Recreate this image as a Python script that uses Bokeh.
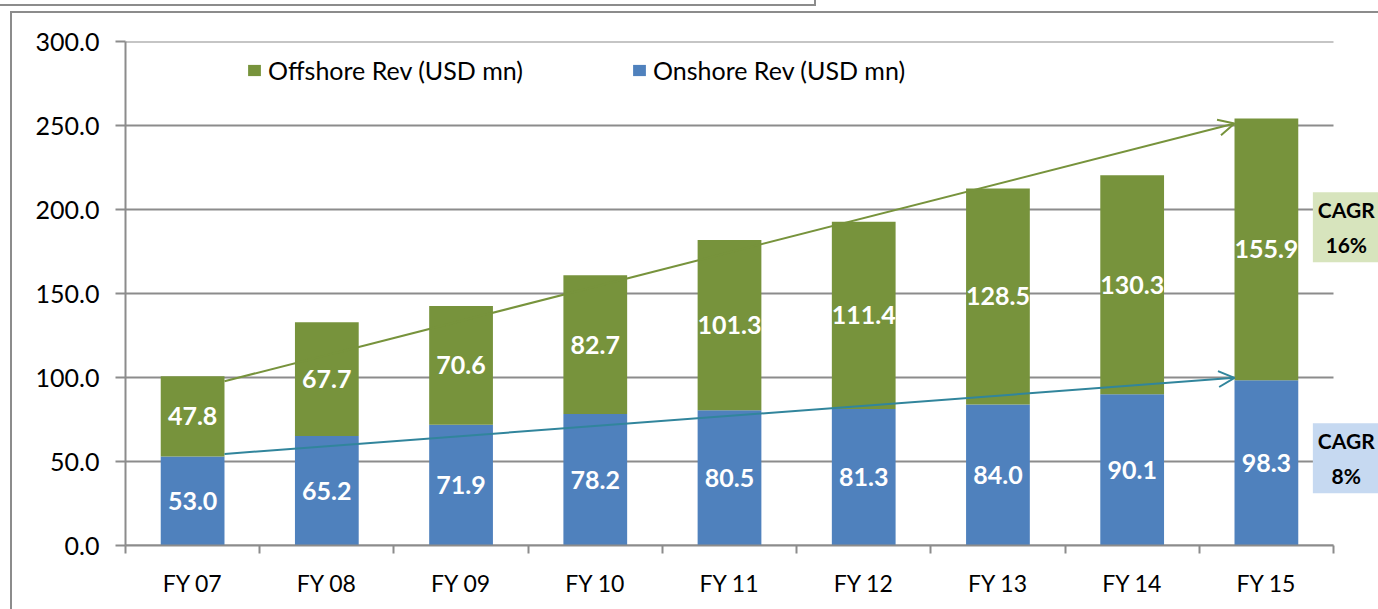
from bokeh.plotting import figure
from bokeh.models import (ColumnDataSource, FixedTicker, NumeralTickFormatter, Legend, LegendItem,
                          Arrow, OpenHead, Label, Range1d, InlineStyleSheet)
from bokeh.core.properties import value
from bokeh.embed import file_html
from bokeh.resources import INLINE

categories = ["FY 07", "FY 08", "FY 09", "FY 10", "FY 11", "FY 12", "FY 13", "FY 14", "FY 15"]
onshore = [53.0, 65.2, 71.9, 78.2, 80.5, 81.3, 84.0, 90.1, 98.3]
offshore = [47.8, 67.7, 70.6, 82.7, 101.3, 111.4, 128.5, 130.3, 155.9]
y_ticks = [0, 50, 100, 150, 200, 250, 300]
cagr_offshore = "16%"
cagr_onshore = "8%"

GREEN = "#77933C"
BLUE = "#4F81BD"
TEAL = "#31859C"
GRID = "#8c8c8c"
FONT = "Lato"

n = len(categories)
xs = [i + 0.5 for i in range(n)]
totals = [a + b for a, b in zip(onshore, offshore)]
BW = 0.475

src = ColumnDataSource(dict(
    x=xs, on=onshore, off=offshore, tot=totals,
    on_mid=[v / 2 for v in onshore],
    off_mid=[a + b / 2 for a, b in zip(onshore, offshore)],
    on_lbl=[f"{v:.1f}" for v in onshore],
    off_lbl=[f"{v:.1f}" for v in offshore],
))

# plot frame spans x=125..1378 px; category area ends at 1333 px
x_end = n * (1378 - 125) / (1333 - 125)

p = figure(width=1378, height=609, output_backend="svg", toolbar_location=None,
           x_range=Range1d(0, x_end), y_range=Range1d(0, 300),
           min_border_left=125, min_border_right=0, min_border_top=41, min_border_bottom=64)
p.outline_line_color = None
p.background_fill_color = "white"
p.border_fill_color = "white"
p.stylesheets = [InlineStyleSheet(css="""
:host { position: relative; }
:host::after { content: ""; position: absolute; left: 10px; top: 11px; right: 0; bottom: 0;
  border-top: 2px solid #8c8c8c; border-left: 2px solid #8c8c8c; pointer-events: none; z-index: 10; }
:host::before { content: ""; position: absolute; left: 0; top: 0; width: 814px; height: 4px;
  border-bottom: 2px solid #8c8c8c; border-right: 2px solid #8c8c8c; pointer-events: none; z-index: 10; }
""")]

# horizontal gridlines (stop at the last category)
p.xgrid.visible = False
p.ygrid.visible = False
p.segment(x0=[0] * len(y_ticks), x1=[n] * len(y_ticks), y0=y_ticks, y1=y_ticks,
          line_color=GRID, line_width=2)

r_on = p.vbar(x="x", bottom=0, top="on", width=BW, source=src, fill_color=BLUE, line_color=None)
r_off = p.vbar(x="x", bottom="on", top="tot", width=BW, source=src, fill_color=GREEN, line_color=None)

p.text(x="x", y="on_mid", text="on_lbl", source=src, text_align="center", text_baseline="middle",
       text_color="white", text_font=value(FONT), text_font_style="bold", text_font_size="25px")
p.text(x="x", y="off_mid", text="off_lbl", source=src, text_align="center", text_baseline="middle",
       text_color="white", text_font=value(FONT), text_font_style="bold", text_font_size="25px")

# axes
p.yaxis.ticker = FixedTicker(ticks=y_ticks)
p.yaxis.formatter = NumeralTickFormatter(format="0.0")
p.yaxis.axis_line_color = GRID
p.yaxis.axis_line_width = 2
p.yaxis.major_tick_line_color = GRID
p.yaxis.major_tick_line_width = 2
p.yaxis.major_tick_in = 0
p.yaxis.major_tick_out = 10
p.yaxis.minor_tick_line_color = None
p.yaxis.major_label_standoff = 16
p.yaxis.major_label_text_font = FONT
p.yaxis.major_label_text_font_size = "25px"
p.yaxis.major_label_text_color = "black"

p.xaxis.bounds = (0, n)
p.xaxis.ticker = FixedTicker(ticks=xs, minor_ticks=list(range(n + 1)))
p.xaxis.major_label_overrides = {x: c for x, c in zip(xs, categories)}
p.xaxis.axis_line_color = GRID
p.xaxis.axis_line_width = 2
p.xaxis.major_tick_line_color = None
p.xaxis.major_tick_in = 0
p.xaxis.major_tick_out = 0
p.xaxis.minor_tick_line_color = GRID
p.xaxis.minor_tick_line_width = 2
p.xaxis.minor_tick_in = 0
p.xaxis.minor_tick_out = 8
p.xaxis.major_label_standoff = 15
p.xaxis.major_label_text_font = FONT
p.xaxis.major_label_text_font_size = "23px"
p.xaxis.major_label_text_color = "black"

# trend arrows
p.add_layout(Arrow(x_start=xs[0] + BW / 2, y_start=totals[0] - 3, x_end=xs[-1] - BW / 2, y_end=totals[-1] - 3,
                   line_color=GREEN, line_width=2,
                   end=OpenHead(size=16, line_color=GREEN, line_width=2)))
p.add_layout(Arrow(x_start=xs[0] + BW / 2, y_start=onshore[0] + 1.5, x_end=xs[-1] - BW / 2, y_end=onshore[-1] + 1.5,
                   line_color=TEAL, line_width=2,
                   end=OpenHead(size=16, line_color=TEAL, line_width=2)))

# CAGR boxes
p.add_layout(Label(x=n + 0.095, y=189.5, text="CAGR\n" + cagr_offshore, text_align="center", text_baseline="middle",
                   text_font=FONT, text_font_style="bold", text_font_size="21px", text_line_height=1.4,
                   text_color="black", background_fill_color="#D7E4BD", padding=5))
p.add_layout(Label(x=n + 0.095, y=52, text="CAGR\n" + cagr_onshore, text_align="center", text_baseline="middle",
                   text_font=FONT, text_font_style="bold", text_font_size="21px", text_line_height=1.4,
                   text_color="black", background_fill_color="#C6D9F1", padding=5))

# legend
legend = Legend(items=[LegendItem(label="Offshore Rev (USD mn)", renderers=[r_off]),
                       LegendItem(label="Onshore Rev (USD mn)", renderers=[r_on])],
                orientation="horizontal", location=(121, 460), padding=0, margin=0, spacing=103,
                glyph_width=16, glyph_height=14, label_standoff=6, label_width=260,
                label_text_font=FONT, label_text_font_size="25px", label_text_color="black",
                border_line_color=None, background_fill_alpha=0)
p.add_layout(legend)

open("out.html", "w").write(file_html(p, INLINE))
